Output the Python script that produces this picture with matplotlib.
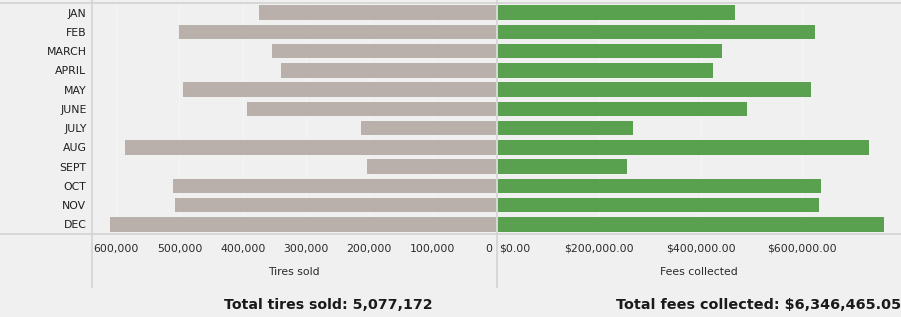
import matplotlib
matplotlib.use('Agg')
import matplotlib.pyplot as plt
import matplotlib.ticker as mticker
from matplotlib.lines import Line2D
from matplotlib.transforms import ScaledTranslation

months = ['JAN', 'FEB', 'MARCH', 'APRIL', 'MAY', 'JUNE', 'JULY', 'AUG', 'SEPT', 'OCT', 'NOV', 'DEC']
tires_sold = [373600, 500000, 353100, 338900, 493700, 392600, 212500, 585300, 203000, 509500, 506300, 609000]
fees_collected = [467000, 625000, 441400, 423600, 617100, 490800, 265600, 731600, 253800, 636900, 632900, 761300]
tire_ticks = [600000, 500000, 400000, 300000, 200000, 100000, 0]
fee_ticks = [0, 200000, 400000, 600000]
total_tires = 'Total tires sold: 5,077,172'
total_fees = 'Total fees collected: $6,346,465.05'

bg = '#f0f0f0'
W, H = 901, 317

plt.rcParams['font.family'] = 'DejaVu Sans'

fig = plt.figure(figsize=(W / 100, H / 100), dpi=100, facecolor=bg)


def px_axes(x0, x1, y0, y1):
    return fig.add_axes([x0 / W, 1 - y1 / H, (x1 - x0) / W, (y1 - y0) / H])


ax_l = px_axes(92, 496, 3, 234)
ax_r = px_axes(498, 901, 3, 234)

rows = list(range(len(months)))

for ax in (ax_l, ax_r):
    ax.set_facecolor(bg)
    for s in ax.spines.values():
        s.set_visible(False)
    ax.set_ylim(len(months) - 0.5, -0.5)
    ax.tick_params(length=0)

# left: tires sold, growing to the left
ax_l.barh(rows, tires_sold, height=0.76, color='#bab0ab', zorder=3)
ax_l.set_xlim(638000, 0)
ax_l.set_xticks(tire_ticks)
ax_l.xaxis.set_major_formatter(mticker.FuncFormatter(lambda v, p: f'{v:,.0f}'))
ax_l.set_yticks(rows)
ax_l.set_yticklabels(months, fontsize=7.8, color='#1e1e1e')
ax_l.tick_params(axis='y', pad=4)
ax_l.tick_params(axis='x', pad=7, labelsize=7.8, labelcolor='#2a2a2a')
ax_l.grid(axis='x', color='#f5f5f5', lw=0.8, zorder=0)
fig.canvas.draw()
for lab in ax_l.get_xticklabels():
    if lab.get_text() == '0':
        lab.set_ha('right')
        lab.set_transform(lab.get_transform() + ScaledTranslation(-3 / 72, 0, fig.dpi_scale_trans))

# right: fees collected
ax_r.barh(rows, fees_collected, height=0.76, color='#59a14f', zorder=3)
ax_r.set_xlim(0, 795000)
ax_r.set_xticks(fee_ticks)
ax_r.xaxis.set_major_formatter(mticker.FuncFormatter(lambda v, p: f'${v:,.2f}'))
ax_r.set_yticks([])
ax_r.tick_params(axis='x', pad=7, labelsize=7.8, labelcolor='#2a2a2a')
ax_r.grid(axis='x', color='#f5f5f5', lw=0.8, zorder=0)
fig.canvas.draw()
for lab in ax_r.get_xticklabels():
    if lab.get_text() == '$0.00':
        lab.set_ha('left')
        lab.set_transform(lab.get_transform() + ScaledTranslation(1 / 72, 0, fig.dpi_scale_trans))

# frame lines
lc = '#d2d2d2'
for y in (3, 234):
    fig.add_artist(Line2D([0, 1], [1 - y / H, 1 - y / H], color=lc, lw=1.2))
for x in (92, 497):
    fig.add_artist(Line2D([x / W, x / W], [1 - 287 / H, 1], color=lc, lw=1.2))

fig.text(294 / W, 1 - 272 / H, 'Tires sold', ha='center', va='center', fontsize=7.8, color='#2a2a2a')
fig.text(699 / W, 1 - 272 / H, 'Fees collected', ha='center', va='center', fontsize=7.8, color='#2a2a2a')

fig.text(328 / W, 1 - 305 / H, total_tires, ha='center', va='center',
         fontsize=10.2, fontweight='bold', color='#1a1a1a')
fig.text(616 / W, 1 - 305 / H, total_fees, ha='left', va='center',
         fontsize=10.4, fontweight='bold', color='#1a1a1a')

fig.savefig('out.png', dpi=100, facecolor=bg)
